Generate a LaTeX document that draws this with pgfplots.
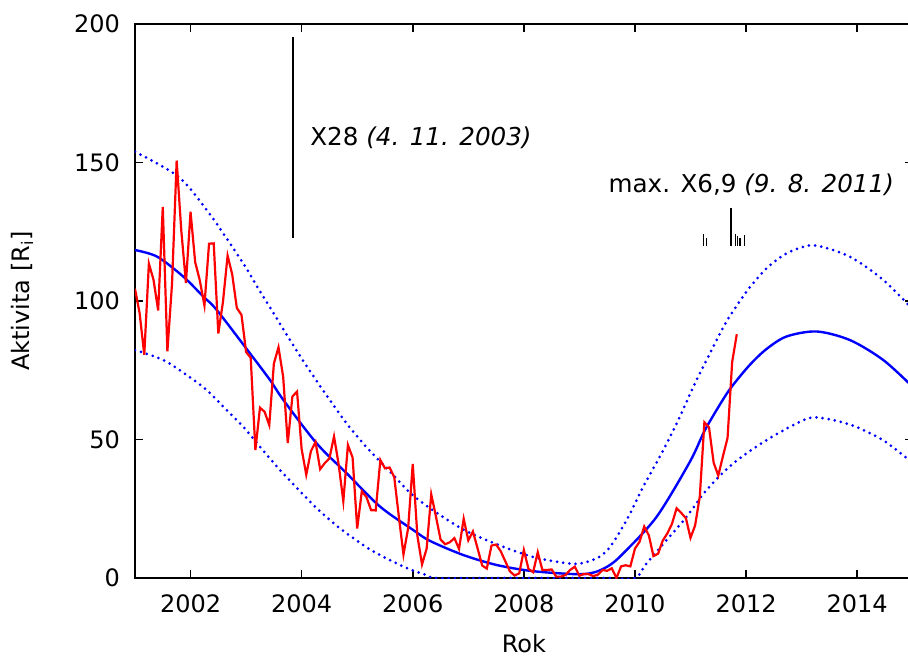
\documentclass[border=0pt]{standalone}
\usepackage{pgfplots}
\pgfplotsset{compat=1.18}
\usepackage{pgfplotstable}
\usepackage{fontspec}
\setmainfont{DejaVu Sans}

% monthly sunspot number (Dec 2000 .. Oct 2011)
\pgfplotstableread{
t r
2001.000 104.4
2001.083 95.6
2001.167 80.6
2001.250 113.5
2001.333 107.7
2001.417 96.6
2001.500 134.0
2001.583 81.8
2001.667 106.4
2001.750 150.7
2001.833 125.5
2001.917 106.5
2002.000 132.2
2002.083 114.1
2002.167 107.4
2002.250 98.4
2002.333 120.7
2002.417 120.8
2002.500 88.3
2002.583 99.6
2002.667 116.4
2002.750 109.6
2002.833 97.5
2002.917 95.0
2003.000 81.6
2003.083 79.5
2003.167 46.2
2003.250 61.5
2003.333 60.0
2003.417 55.2
2003.500 77.4
2003.583 83.3
2003.667 72.7
2003.750 48.7
2003.833 65.5
2003.917 67.3
2004.000 46.5
2004.083 37.3
2004.167 45.8
2004.250 49.1
2004.333 39.3
2004.417 41.5
2004.500 43.2
2004.583 51.1
2004.667 40.9
2004.750 27.7
2004.833 48.0
2004.917 43.5
2005.000 17.9
2005.083 31.3
2005.167 29.2
2005.250 24.5
2005.333 24.4
2005.417 42.6
2005.500 39.6
2005.583 39.9
2005.667 36.4
2005.750 22.1
2005.833 8.5
2005.917 18.0
2006.000 41.2
2006.083 15.3
2006.167 4.9
2006.250 10.6
2006.333 30.2
2006.417 22.3
2006.500 13.9
2006.583 12.2
2006.667 12.9
2006.750 14.4
2006.833 10.5
2006.917 21.4
2007.000 13.6
2007.083 16.8
2007.167 10.7
2007.250 4.5
2007.333 3.4
2007.417 11.7
2007.500 12.1
2007.583 9.7
2007.667 6.0
2007.750 2.4
2007.833 0.9
2007.917 1.7
2008.000 10.1
2008.083 3.3
2008.167 2.1
2008.250 9.3
2008.333 2.9
2008.417 2.9
2008.500 3.1
2008.583 0.5
2008.667 0.5
2008.750 1.1
2008.833 2.9
2008.917 4.1
2009.000 0.8
2009.083 1.5
2009.167 1.4
2009.250 0.7
2009.333 1.2
2009.417 2.9
2009.500 2.6
2009.583 3.5
2009.667 0.0
2009.750 4.2
2009.833 4.6
2009.917 4.2
2010.000 10.6
2010.083 13.1
2010.167 18.6
2010.250 15.4
2010.333 7.9
2010.417 8.8
2010.500 13.5
2010.583 16.1
2010.667 19.6
2010.750 25.2
2010.833 23.5
2010.917 21.6
2011.000 14.5
2011.083 19.0
2011.167 29.4
2011.250 56.2
2011.333 54.4
2011.417 41.6
2011.500 37.0
2011.583 43.9
2011.667 50.6
2011.750 78.0
2011.833 88.0
}\sunspots

% predicted cycle and its bounds
\pgfplotstableread{
t r
2001.00 118.4
2001.40 116.0
2001.87 108.8
2002.23 101.6
2002.47 96.8
2003.07 81.1
2003.43 71.5
2003.67 64.3
2004.27 48.6
2004.81 37.8
2005.41 25.8
2006.01 17.3
2006.31 13.4
2006.91 8.3
2007.51 4.7
2008.11 2.6
2008.71 1.6
2009.07 1.4
2009.31 2.3
2009.55 4.7
2009.79 8.9
2010.39 22.1
2010.99 42.0
2011.26 53.4
2011.59 64.6
2011.77 69.8
2012.07 77.0
2012.37 82.7
2012.73 87.2
2013.27 89.0
2013.87 85.9
2014.47 78.7
2015.00 69.0
}\predmid

\pgfplotstableread{
t r
2001.00 153.9
2001.78 144.9
2002.29 132.9
2002.65 122.6
2002.98 112.6
2003.25 103.5
2003.70 88.9
2003.97 80.2
2004.36 68.5
2004.81 55.8
2005.20 46.5
2005.62 37.8
2005.95 30.8
2006.31 25.2
2006.91 17.5
2007.51 12.2
2008.11 7.9
2008.50 6.2
2008.95 5.1
2009.31 7.1
2009.54 10.9
2009.85 20.9
2010.15 33.0
2010.48 45.0
2010.78 57.0
2011.05 69.0
2011.35 81.1
2011.59 90.5
2011.77 96.5
2012.07 105.0
2012.37 111.8
2012.67 116.5
2012.97 119.2
2013.27 120.0
2013.87 116.0
2014.47 107.6
2015.00 97.0
}\predhigh

\pgfplotstableread{
t r
2001.00 82.3
2001.51 78.7
2001.93 73.3
2002.29 67.9
2002.65 60.6
2002.95 54.6
2003.25 47.4
2003.61 39.0
2004.21 26.4
2004.57 19.9
2004.81 16.1
2005.17 11.1
2005.38 8.6
2005.77 4.7
2006.01 2.7
2006.20 1.4
2006.43 0.0
2007.50 0.0
2008.50 0.0
2009.50 0.0
2010.00 0.0
2010.21 5.3
2010.57 13.7
2010.93 22.1
2011.29 31.8
2011.77 41.4
2012.37 49.8
2012.97 56.4
2013.27 58.0
2013.87 55.4
2014.47 49.7
2015.00 41.5
}\predlow

\begin{document}
\begin{tikzpicture}
\begin{axis}[name=ax, scale only axis, width=388.85pt, height=277pt,
  xmin=2001, xmax=2015, ymin=0, ymax=200,
  xtick={2002,2004,...,2014}, ytick={0,50,...,200},
  tick align=inside, xtick pos=both, ytick pos=both, major tick length=4pt,
  tick style={black, line width=0.8pt},
  axis line style={line width=0.8pt},
  /pgf/number format/1000 sep={},
  /pgf/number format/assume math mode=true,
  tick label style={font=\fontsize{12}{14}\selectfont},
  xticklabel style={yshift=-5pt},
  yticklabel style={xshift=-4pt},
  label style={font=\fontsize{12}{14}\selectfont},
  xlabel={Rok}, ylabel={Aktivita [R\textsubscript{i}]},
  xlabel style={at={(axis description cs:0.5,0)}, anchor=base, yshift=-37pt},
  ylabel style={at={(axis description cs:-0.1453,0.5)}, anchor=center}]

  \addplot[blue, line width=1.5pt, dash pattern=on 0pt off 3.1pt, line cap=round, smooth] table {\predhigh};
  \addplot[blue, line width=1.5pt, dash pattern=on 0pt off 3.1pt, line cap=round, smooth] table {\predlow};
  \addplot[blue, line width=1.2pt, smooth] table {\predmid};
  \addplot[red, line width=1.1pt] table {\sunspots};

  % X-class flares
  \addplot[black, line width=1pt] coordinates {(2003.844,122.7) (2003.844,195.3)};
  \addplot[black, line width=0.8pt] coordinates {(2011.729,119.9) (2011.729,133.5)};
  \addplot[black, line width=0.7pt] coordinates {(2011.230,119.9) (2011.230,124.1)};
  \addplot[black, line width=0.7pt] coordinates {(2011.291,119.9) (2011.291,122.9)};
  \addplot[black, line width=0.7pt] coordinates {(2011.810,119.9) (2011.810,124.1)};
  \addplot[black, line width=0.7pt] coordinates {(2011.842,119.9) (2011.842,123.5)};
  \addplot[black, line width=0.7pt] coordinates {(2011.891,119.9) (2011.891,122.7)};
  \addplot[black, line width=0.7pt] coordinates {(2011.968,119.9) (2011.968,123.7)};

  \node[anchor=base west, inner sep=0pt, font=\fontsize{12.3}{14}\selectfont]
    at (axis cs:2004.15,156) {X28 \textit{(4. 11. 2003)}};
  \node[anchor=base west, inner sep=0pt, font=\fontsize{12.3}{14}\selectfont]
    at (axis cs:2009.52,139.2) {max. X6,9 \textit{(9. 8. 2011)}};
\end{axis}
\pgfresetboundingbox
\useasboundingbox ([xshift=-67.5pt,yshift=-38.5pt]ax.south west)
  rectangle ([xshift=-2.35pt,yshift=12pt]ax.north east);
\end{tikzpicture}
\end{document}
